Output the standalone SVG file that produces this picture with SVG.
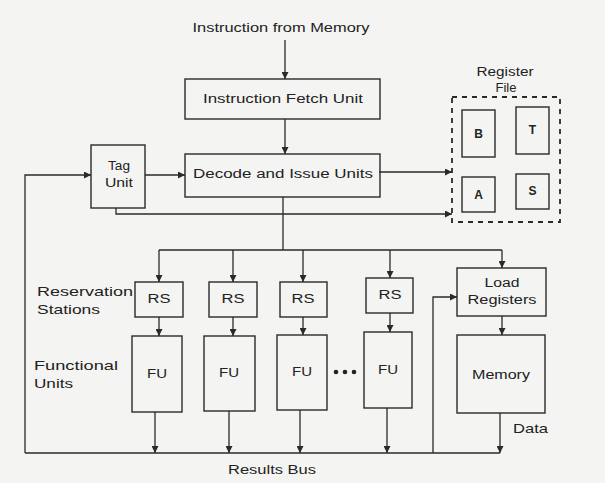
<svg xmlns="http://www.w3.org/2000/svg" width="605" height="483" viewBox="0 0 605 483">
<defs>
<style>
.bx{fill:none;stroke:#2a2a2a;stroke-width:1.4}
.dash{fill:none;stroke:#2a2a2a;stroke-width:1.8;stroke-dasharray:5 5}
.ln{fill:none;stroke:#2a2a2a;stroke-width:1.3}
.t{font-family:"Liberation Sans",Arial,sans-serif;font-size:12px;fill:#222;text-anchor:middle;dominant-baseline:central}
.tl{font-family:"Liberation Sans",Arial,sans-serif;font-size:13px;fill:#222;dominant-baseline:central}
.b{font-weight:bold}
</style>
<marker id="ah" viewBox="0 0 10 10" refX="10" refY="5" markerWidth="7" markerHeight="7" markerUnits="userSpaceOnUse" orient="auto">
<path d="M0,0 L10,5 L0,10 z" fill="#2a2a2a"/>
</marker>
</defs>
<rect width="605" height="483" fill="#f4f4f2"/>

<g id="connectors">
<path class="ln" d="M285 40 V79" marker-end="url(#ah)"/>
<path class="ln" d="M285 119 V154" marker-end="url(#ah)"/>
<path class="ln" d="M25 453 V175 H91" marker-end="url(#ah)"/>
<path class="ln" d="M145 175 H185" marker-end="url(#ah)"/>
<path class="ln" d="M379 172 H452" marker-end="url(#ah)"/>
<path class="ln" d="M116 208 V214 H452" marker-end="url(#ah)"/>
<path class="ln" d="M283 197 V250"/>
<path class="ln" d="M159 250 H502"/>
<path class="ln" d="M159 250 V282" marker-end="url(#ah)"/>
<path class="ln" d="M233 250 V282" marker-end="url(#ah)"/>
<path class="ln" d="M303 250 V282" marker-end="url(#ah)"/>
<path class="ln" d="M390 250 V278" marker-end="url(#ah)"/>
<path class="ln" d="M502 250 V268" marker-end="url(#ah)"/>
<path class="ln" d="M159 317 V336" marker-end="url(#ah)"/>
<path class="ln" d="M233 317 V336" marker-end="url(#ah)"/>
<path class="ln" d="M303 317 V335" marker-end="url(#ah)"/>
<path class="ln" d="M390 313 V332" marker-end="url(#ah)"/>
<path class="ln" d="M155 412 V453" marker-end="url(#ah)"/>
<path class="ln" d="M229 411 V453" marker-end="url(#ah)"/>
<path class="ln" d="M300 410 V453" marker-end="url(#ah)"/>
<path class="ln" d="M387 408 V453" marker-end="url(#ah)"/>
<path class="ln" d="M25 453 H500"/>
<path class="ln" d="M433 453 V297 H457" marker-end="url(#ah)"/>
<path class="ln" d="M502 316 V335" marker-end="url(#ah)"/>
<path class="ln" d="M500 413 V453" marker-end="url(#ah)"/>
</g>

<g id="label-instr">
<text class="t" x="281" y="28" textLength="177" lengthAdjust="spacingAndGlyphs">Instruction from Memory</text>
</g>

<g id="fetch">
<rect class="bx" x="185" y="79" width="195" height="40"/>
<text class="t" x="283" y="99" textLength="160" lengthAdjust="spacingAndGlyphs">Instruction Fetch Unit</text>
</g>

<g id="decode">
<rect class="bx" x="185" y="154" width="195" height="43"/>
<text class="t" x="283" y="174" textLength="180" lengthAdjust="spacingAndGlyphs">Decode and Issue Units</text>
</g>

<g id="tag">
<rect class="bx" x="91" y="145" width="54" height="63"/>
<text class="t" x="119" y="166" textLength="22" lengthAdjust="spacingAndGlyphs">Tag</text>
<text class="t" x="119" y="183" textLength="28" lengthAdjust="spacingAndGlyphs">Unit</text>
</g>

<g id="regfile">
<text class="t" x="505" y="72" textLength="57" lengthAdjust="spacingAndGlyphs">Register</text>
<text class="t" x="506" y="88" textLength="21" lengthAdjust="spacingAndGlyphs">File</text>
<rect class="dash" x="452" y="97" width="108" height="125"/>
<g id="reg-B"><rect class="bx" x="462" y="110" width="33" height="47"/><text class="t b" x="478.5" y="134">B</text></g>
<g id="reg-T"><rect class="bx" x="516" y="107" width="33" height="47"/><text class="t b" x="532.5" y="130">T</text></g>
<g id="reg-A"><rect class="bx" x="462" y="177" width="33" height="35"/><text class="t b" x="478.5" y="195">A</text></g>
<g id="reg-S"><rect class="bx" x="516" y="174" width="33" height="35"/><text class="t b" x="532.5" y="191">S</text></g>
</g>

<g id="side-labels">
<text class="tl" x="37" y="291" textLength="96" lengthAdjust="spacingAndGlyphs">Reservation</text>
<text class="tl" x="37" y="309" textLength="63" lengthAdjust="spacingAndGlyphs">Stations</text>
<text class="tl" x="34" y="365" textLength="84" lengthAdjust="spacingAndGlyphs">Functional</text>
<text class="tl" x="34" y="383" textLength="39" lengthAdjust="spacingAndGlyphs">Units</text>
</g>

<g id="rs1"><rect class="bx" x="135" y="282" width="48" height="35"/><text class="t" x="159" y="299" textLength="23" lengthAdjust="spacingAndGlyphs">RS</text></g>
<g id="rs2"><rect class="bx" x="209" y="282" width="48" height="35"/><text class="t" x="233" y="299" textLength="23" lengthAdjust="spacingAndGlyphs">RS</text></g>
<g id="rs3"><rect class="bx" x="280" y="282" width="47" height="35"/><text class="t" x="303" y="299" textLength="23" lengthAdjust="spacingAndGlyphs">RS</text></g>
<g id="rs4"><rect class="bx" x="366" y="278" width="47" height="35"/><text class="t" x="390" y="295" textLength="23" lengthAdjust="spacingAndGlyphs">RS</text></g>

<g id="fu1"><rect class="bx" x="132" y="336" width="50" height="76"/><text class="t" x="157" y="374" textLength="20" lengthAdjust="spacingAndGlyphs">FU</text></g>
<g id="fu2"><rect class="bx" x="204" y="336" width="51" height="75"/><text class="t" x="229" y="373" textLength="20" lengthAdjust="spacingAndGlyphs">FU</text></g>
<g id="fu3"><rect class="bx" x="277" y="335" width="50" height="75"/><text class="t" x="302" y="372" textLength="20" lengthAdjust="spacingAndGlyphs">FU</text></g>
<g id="dots">
<circle cx="336" cy="372" r="2.3" fill="#222"/>
<circle cx="345" cy="372" r="2.3" fill="#222"/>
<circle cx="354" cy="372" r="2.3" fill="#222"/>
</g>
<g id="fu4"><rect class="bx" x="364" y="332" width="48" height="76"/><text class="t" x="388" y="370" textLength="20" lengthAdjust="spacingAndGlyphs">FU</text></g>

<g id="load">
<rect class="bx" x="457" y="268" width="89" height="48"/>
<text class="t" x="502" y="283" textLength="35" lengthAdjust="spacingAndGlyphs">Load</text>
<text class="t" x="502" y="300" textLength="69" lengthAdjust="spacingAndGlyphs">Registers</text>
</g>

<g id="memory">
<rect class="bx" x="457" y="335" width="88" height="78"/>
<text class="t" x="501" y="375" textLength="58" lengthAdjust="spacingAndGlyphs">Memory</text>
</g>

<g id="labels">
<text class="tl" x="513" y="428" textLength="35" lengthAdjust="spacingAndGlyphs">Data</text>
<text class="t" x="272" y="470" textLength="88" lengthAdjust="spacingAndGlyphs">Results Bus</text>
</g>
</svg>
